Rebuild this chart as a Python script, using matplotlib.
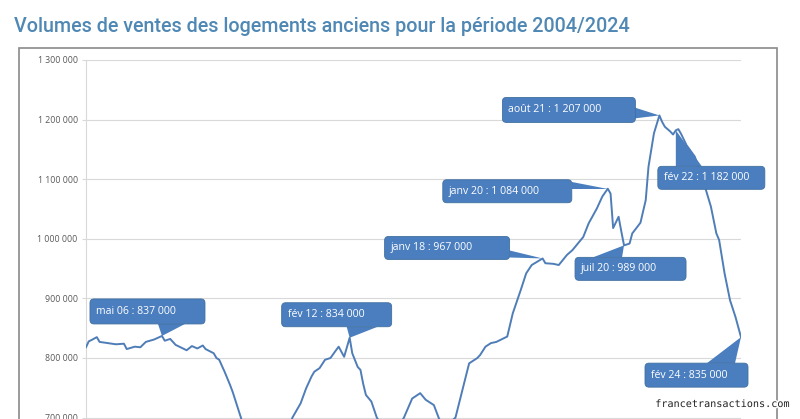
import matplotlib
matplotlib.use("Agg")
import matplotlib.pyplot as plt
import matplotlib.dates as mdates
from matplotlib.patches import FancyBboxPatch, Polygon, Rectangle
from matplotlib.transforms import IdentityTransform
import matplotlib.patheffects as pe
import pandas as pd

# volumes de ventes (cumul 12 mois)
months = ['2004-01', '2004-02', '2004-03', '2004-05', '2004-06', '2004-09', '2004-12',
          '2005-03', '2005-04', '2005-07', '2005-09', '2005-11', '2006-02', '2006-05',
          '2006-06', '2006-08', '2006-10', '2007-02', '2007-04', '2007-06', '2007-08',
          '2007-09', '2007-12', '2008-01', '2008-02', '2008-04', '2008-06', '2008-07',
          '2008-10', '2009-01', '2009-04', '2009-06', '2009-09', '2010-01', '2010-05',
          '2010-08', '2010-10', '2010-12', '2011-01', '2011-03', '2011-05', '2011-07',
          '2011-09', '2011-10', '2011-12', '2012-02', '2012-03', '2012-05', '2012-06',
          '2012-07', '2012-08', '2012-10', '2012-12', '2013-03', '2013-06', '2013-08',
          '2013-10', '2014-01', '2014-04', '2014-06', '2014-09', '2014-11', '2015-02',
          '2015-05', '2015-10', '2016-01', '2016-02', '2016-04', '2016-06', '2016-08',
          '2016-12', '2017-02', '2017-05', '2017-07', '2017-09', '2018-01', '2018-02',
          '2018-05', '2018-07', '2018-10', '2018-12', '2019-04', '2019-06', '2019-09',
          '2019-11', '2020-01', '2020-02', '2020-03', '2020-05', '2020-06', '2020-07',
          '2020-09', '2020-10', '2021-01', '2021-03', '2021-04', '2021-06', '2021-08',
          '2021-09', '2021-10', '2021-12', '2022-01', '2022-02', '2022-03', '2022-04',
          '2022-06', '2022-09', '2022-12', '2023-03', '2023-05', '2023-06', '2023-08',
          '2023-10', '2023-12', '2024-02']
volumes = [818000, 828000, 830000, 835000, 827000, 825000, 823000,
           824000, 815000, 819000, 818000, 827000, 831000, 837000,
           829000, 832000, 822000, 813000, 820000, 816000, 821000,
           815000, 808000, 800000, 797000, 777000, 755000, 743000,
           700000, 650000, 610000, 592000, 610000, 655000, 700000,
           724000, 749000, 769000, 777000, 783000, 797000, 800000,
           813000, 819000, 802000, 834000, 808000, 785000, 780000,
           757000, 738000, 727000, 700000, 680000, 670000, 685000,
           700000, 732000, 741000, 730000, 721000, 697000, 688000,
           700000, 791000, 800000, 805000, 819000, 825000, 827000,
           836000, 875000, 914000, 942000, 956000, 967000, 959000,
           958000, 956000, 973000, 981000, 1003000, 1026000, 1051000,
           1071000, 1084000, 1076000, 1018000, 1037000, 1012000, 989000,
           992000, 1009000, 1027000, 1065000, 1121000, 1177000, 1207000,
           1196000, 1188000, 1180000, 1175000, 1182000, 1184000, 1176000,
           1157000, 1138000, 1099000, 1054000, 1009000, 998000, 942000,
           897000, 869000, 835000]

yticks = [700000, 800000, 900000, 1000000, 1100000, 1200000, 1300000]

# points commentés
callout_months = ['2006-05', '2012-02', '2018-01', '2020-01', '2021-08', '2022-02', '2020-07', '2024-02']
mois_fr = ['janv', 'fév', 'mars', 'avr', 'mai', 'juin', 'juil', 'août', 'sept', 'oct', 'nov', 'déc']

# position des bulles en pixels par rapport au point (gauche, haut, largeur, hauteur, base de la pointe)
callout_boxes = [
    (-72, -37, 115, 25, [(-4, -12), (23, -12)]),
    (-68, -35, 110, 24, [(-3, -11), (28, -11)]),
    (-158, -22, 125, 23, [(-33, -8), (-33, -1)]),
    (-165, -9, 129, 23, [(-36, -7), (-36, 0)]),
    (-157, -18, 133, 25, [(-25, -8), (-25, 3)]),
    (-18, 36, 107, 23, [(0, 36), (26, 36)]),
    (-49, 12, 111, 23, [(-31, 12), (-2, 12)]),
    (-96, 26, 103, 24, [(-34, 26), (-6, 26)]),
]

blue = '#4a7ebf'
W, H = 800, 419

dates = pd.to_datetime(months)
fig = plt.figure(figsize=(W / 100, H / 100), dpi=100)
fig.patch.set_facecolor('white')

# axes tracé plus bas que l'image (graphique rogné en bas)
ax_bottom = (H - (60 + 8 * 59.6)) / H
ax = fig.add_axes([86 / W, ax_bottom, 655 / W, 8 * 59.6 / H])
ax.plot(dates, volumes, color='#4f7db7', lw=1.4, zorder=3)
ax.set_xlim(dates[0], dates[-1])
ax.set_ylim(500000, 1300000)
ax.set_yticks(yticks)
ax.set_yticklabels([f"{v:,}".replace(',', ' ') for v in yticks])
ax.tick_params(axis='y', length=3, width=0.8, color='#d9d9d9', pad=3,
               labelsize=6.3, labelcolor='#595959')
for lab in ax.get_yticklabels():
    lab.set_family('Open Sans')
ax.set_xticks([])
ax.grid(axis='y', color='#d9d9d9', lw=0.8)
ax.set_axisbelow(True)
for s in ['top', 'right', 'bottom']:
    ax.spines[s].set_visible(False)
ax.spines['left'].set_color('#d9d9d9')
ax.spines['left'].set_linewidth(0.8)

# cadre du graphique
fig.add_artist(Rectangle((19 / W, -0.05), 758 / W, (H - 48) / H + 0.05,
                         transform=fig.transFigure, fill=False, ec='#8a8a8a', lw=1.2))

fig.text(14 / W, 1 - 27 / H, 'Volumes de ventes des logements anciens pour la période 2004/2024',
         color='#4f88b4', fontsize=14.2, family='Roboto', weight='medium', va='center')

ident = IdentityTransform()
for m, (bl, bt, bw, bh, base) in zip(callout_months, callout_boxes):
    i = months.index(m)
    v = volumes[i]
    tx, ty = ax.transData.transform((mdates.date2num(dates[i]), v))
    # pointe
    pts = [(tx + dx, ty - dy) for dx, dy in base] + [(tx, ty)]
    fig.add_artist(Polygon(pts, closed=True, fc=blue, ec='none', transform=ident, zorder=4))
    # bulle
    x0 = tx + bl
    y0 = ty - bt - bh
    fig.add_artist(FancyBboxPatch((x0, y0), bw, bh, boxstyle='round,pad=0,rounding_size=4',
                                  fc=blue, ec='#41709f', lw=0.6, transform=ident, zorder=5))
    yy, mm = m.split('-')
    label = f"{mois_fr[int(mm) - 1]} {yy[2:]} : " + f"{v:,}".replace(',', ' ')
    fig.text(x0 + 6, y0 + bh / 2, label, transform=ident, color='white', fontsize=7.6,
             family='Open Sans', va='center', ha='left', zorder=6)

fig.text(790 / W, 1 - 404 / H, 'francetransactions.com', ha='right', va='center',
         fontsize=7.3, family='DejaVu Sans Mono', color='#222222',
         path_effects=[pe.withStroke(linewidth=2, foreground='white')])

fig.savefig('out.png', dpi=100, facecolor='white')
